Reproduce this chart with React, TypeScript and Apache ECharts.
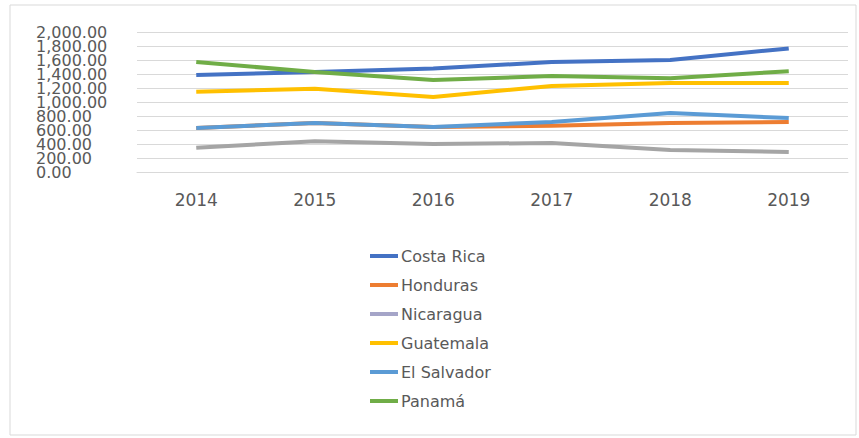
import React, { useEffect, useRef } from "react";
import * as echarts from "echarts";

const years = ["2014", "2015", "2016", "2017", "2018", "2019"];
const yTickLabels = ["0.00", "200.00", "400.00", "600.00", "800.00", "1,000.00", "1,200.00", "1,400.00", "1,600.00", "1,800.00", "2,000.00"];
const costaRica = [1385, 1430, 1480, 1570, 1600, 1765];
const honduras = [630, 700, 643, 660, 700, 715];
const nicaragua = [345, 440, 400, 414, 315, 285];
const guatemala = [1145, 1190, 1070, 1230, 1270, 1270];
const elSalvador = [630, 700, 643, 714, 843, 771];
const panama = [1570, 1430, 1315, 1370, 1340, 1440];

const seriesNames = ["Costa Rica", "Honduras", "Nicaragua", "Guatemala", "El Salvador", "Panamá"];
const seriesData = [costaRica, honduras, nicaragua, guatemala, elSalvador, panama];
const colors = ["#4472C4", "#ED7D31", "#A5A5A5", "#FFC000", "#5B9BD5", "#70AD47"];
const legendColors = ["#4472C4", "#ED7D31", "#A5A5C8", "#FFC000", "#5B9BD5", "#70AD47"];

export default function App() {
  const ref = useRef<HTMLDivElement>(null);
  useEffect(() => {
    if (!ref.current) return;
    const chart = echarts.init(ref.current, null, { renderer: "svg" });
    const font = "'DejaVu Sans', 'Liberation Sans', sans-serif";
    chart.setOption({
      animation: false,
      backgroundColor: "#ffffff",
      textStyle: { fontFamily: font },
      graphic: [
        {
          type: "rect",
          shape: { x: 10, y: 5, width: 846, height: 430 },
          style: { fill: "none", stroke: "#D9D9D9", lineWidth: 1 },
          silent: true,
        },
      ],
      grid: { left: 137, right: 11, top: 32, bottom: 266, containLabel: false },
      xAxis: {
        type: "category",
        data: years,
        boundaryGap: true,
        axisLine: { show: true, lineStyle: { color: "#D9D9D9" } },
        axisTick: { show: false },
        axisLabel: { color: "#595959", fontSize: 17, margin: 19, fontFamily: font },
      },
      yAxis: [
        {
          type: "value",
          min: 0,
          max: 2000,
          interval: 200,
          axisLine: { show: false },
          axisTick: { show: false },
          splitLine: { lineStyle: { color: "#D9D9D9" } },
          axisLabel: { show: false },
        },
        {
          type: "category",
          data: yTickLabels,
          boundaryGap: false,
          position: "left",
          axisLine: { show: false },
          axisTick: { show: false },
          splitLine: { show: false },
          axisLabel: {
            interval: 0,
            color: "#595959",
            fontSize: 16,
            margin: 101,
            align: "left",
            fontFamily: font,
          },
        },
      ],
      legend: {
        orient: "vertical",
        left: 365,
        top: 242,
        itemWidth: 28,
        itemHeight: 4,
        itemGap: 11,
        icon: "rect",
        textStyle: { color: "#595959", fontSize: 16, lineHeight: 18, fontFamily: font, padding: [0, 0, 0, -2] },
        data: seriesNames.map((n, i) => ({ name: n, itemStyle: { color: legendColors[i] } })),
      },
      series: seriesNames.map((name, i) => ({
        name,
        type: "line",
        yAxisIndex: 0,
        data: seriesData[i],
        symbol: "none",
        color: colors[i],
        lineStyle: { width: 4, color: colors[i] },
      })),
    });
    return () => chart.dispose();
  }, []);
  return (
    <div
      ref={ref}
      style={{ position: "absolute", left: 0, top: 0, width: 859, height: 438 }}
    />
  );
}
